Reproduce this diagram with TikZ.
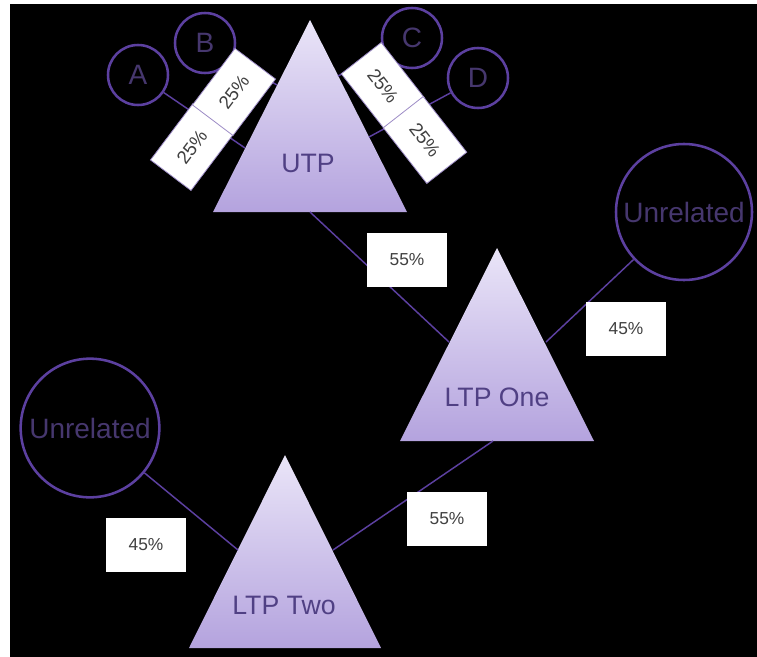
\documentclass[tikz,border=0pt]{standalone}
\usepackage{fontspec}
\setmainfont{Liberation Sans}
\usepackage{xcolor}
\usepackage{tikz}
\definecolor{ring}{RGB}{92,64,160}
\definecolor{ringtext}{RGB}{70,55,110}
\definecolor{tritop}{RGB}{234,229,248}
\definecolor{tribot}{RGB}{180,163,222}
\definecolor{tritext}{RGB}{80,64,132}

\begin{document}
\begin{tikzpicture}[x=0.75pt, y=-0.75pt,
  circ/.style={draw=ring, line width=1.9pt, circle, inner sep=0pt, minimum size=#1, text=ringtext, font=\fontsize{21}{24}\selectfont},
  circ/.default=45pt,
  tri/.style={top color=tritop, bottom color=tribot, draw=none},
  tlab/.style={text=tritext, font=\fontsize{20}{24}\selectfont},
  pct/.style={fill=white, inner sep=0pt, minimum width=60pt, minimum height=40pt, font=\fontsize{13}{15}\selectfont, text=black!75},
  tag/.style={fill=white, draw=ring!60, line width=0.6pt, inner sep=0pt, minimum width=53pt, minimum height=38pt, font=\fontsize{14}{16}\selectfont, text=black!75, rotate=#1},
  link/.style={draw=ring, line width=1.1pt}]
% background with the thin white margin
\fill[white] (0,0) rectangle (757,657);
\fill[black] (10,4) rectangle (757,657);
% triangles
\shade[tri] (310,20) -- (407,212) -- (213,212) -- cycle;
\shade[tri] (497,248) -- (594,441) -- (400,441) -- cycle;
\shade[tri] (285,455) -- (381,648) -- (189,648) -- cycle;
\node[tlab] (utp) at (308,163) {UTP};
\node[tlab] (ltp1) at (497,397) {LTP One};
\node[tlab] (ltp2) at (284,605) {LTP Two};
% points on the triangle sides
\coordinate (ua) at (245,148); \coordinate (ub) at (277,85);
\coordinate (uc) at (338,76); \coordinate (ud) at (369,137);
\coordinate (ubase) at (310,212); \coordinate (oleft) at (449,342);
\coordinate (oright) at (546,342); \coordinate (obase) at (493,441);
\coordinate (tright) at (333,550); \coordinate (tleft) at (238,550);
% owners
\node[circ] (a) at (138,75) {A};
\node[circ] (b) at (205,43) {B};
\node[circ] (c) at (412,38) {C};
\node[circ] (d) at (478,78) {D};
\node[circ=102pt] (un1) at (684,212) {Unrelated};
\node[circ=104pt] (un2) at (90,428) {Unrelated};
% links
\draw[link] (ubase) -- (oleft); \draw[link] (oright) -- (un1);
\draw[link] (obase) -- (tright); \draw[link] (un2) -- (tleft);
\draw[link] (a) -- (ua); \draw[link] (b) -- (ub);
\draw[link] (c) -- (uc); \draw[link] (d) -- (ud);
\node[pct] (p1) at (407,260) {55\%};
\node[pct] (p2) at (626,329) {45\%};
\node[pct] (p3) at (447,519) {55\%};
\node[pct] (p4) at (146,545) {45\%};
% shares in UTP
\node[tag=53] (pa) at (192,147) {25\%};
\node[tag=53] (pb) at (234,92) {25\%};
\node[tag=-52] (pc) at (383,86) {25\%};
\node[tag=-52] (pd) at (425,140) {25\%};
\end{tikzpicture}
\end{document}
